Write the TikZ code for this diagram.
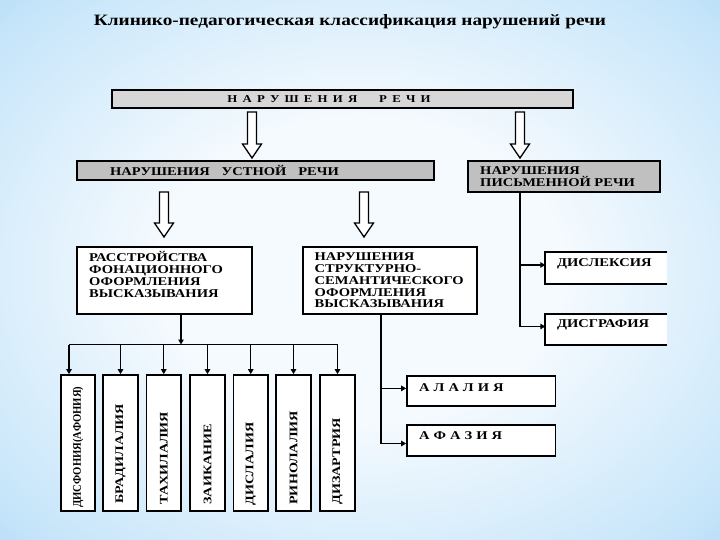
\documentclass[tikz,border=0pt]{standalone}
\usepackage{fontspec}
\setmainfont{Liberation Serif}[FakeStretch=1.22]
\usetikzlibrary{calc,arrows.meta}
\definecolor{bgblue}{RGB}{138,199,238}
\definecolor{bgmid}{RGB}{200,230,250}
\definecolor{bgin}{RGB}{245,250,254}
\definecolor{lgray}{RGB}{215,215,215}
\definecolor{mgray}{RGB}{192,192,192}
\pgfdeclareradialshading{bgshade}{\pgfpoint{0bp}{0bp}}{color(0bp)=(bgin); color(14bp)=(bgin); color(32bp)=(bgmid); color(50bp)=(bgblue); color(70bp)=(bgblue)}
\newcommand\harrow[2]{%
  \draw[hollow] ($(#1)+(-4.5,0)$) -- ($(#2)+(-4.5,-14)$) -- ($(#2)+(-9.5,-14)$) -- (#2)
    -- ($(#2)+(9.5,-14)$) -- ($(#2)+(4.5,-14)$) -- ($(#1)+(4.5,0)$) -- cycle;}
\newcommand\lsp{\hspace{5.2pt}}
\begin{document}
\begin{tikzpicture}[x=1pt,y=-1pt,
  box/.style={draw=black, line width=1.7pt, inner sep=0pt, fill=white},
  obox/.style={inner sep=0pt, fill=white},
  bline/.style={line width=1.7pt},
  conn/.style={line width=1.4pt, -{Triangle[length=5pt,width=5.5pt]}},
  ln/.style={line width=1.4pt},
  hollow/.style={draw=black, line width=1.3pt, fill=white, line join=miter},
  lab/.style={font=\bfseries\fontsize{11.9}{11.8}\selectfont, inner sep=0pt, align=left},
  vlab/.style={font=\bfseries\fontsize{11.6}{12}\selectfont, inner sep=0pt, rotate=90, anchor=west}]
\shade[shading=bgshade] (0,0) rectangle (720,540);
\useasboundingbox (0,0) rectangle (720,540);

% title
\node[font=\bfseries\fontsize{15.8}{18}\selectfont, inner sep=0pt] (title) at (350,22) {Клинико-педагогическая классификация нарушений речи};

% top box
\node[box, fill=lgray, minimum width=461, minimum height=18] (top) at (342.5,99) {};
\node[lab, font=\bfseries\fontsize{10.5}{11}\selectfont] (topT) at (329,99.5) {Н\lsp А\lsp Р\lsp У\lsp Ш\lsp Е\lsp Н\lsp И\lsp Я\hspace{22pt}Р\lsp Е\lsp Ч\lsp И};

% second level
\node[box, fill=mgray, minimum width=357, minimum height=19] (ust) at (255.5,170.5) {};
\node[lab, anchor=west] (ustT) at (110,170.5) {НАРУШЕНИЯ\quad УСТНОЙ\quad РЕЧИ};
\node[box, fill=mgray, minimum width=192, minimum height=31] (pis) at (564,176.5) {};
\node[lab, anchor=west] (pisT) at (480,177) {НАРУШЕНИЯ\\ПИСЬМЕННОЙ РЕЧИ};

% hollow arrows
\coordinate (h1a) at (252,112); \coordinate (h1b) at (252,158);
\coordinate (h2a) at (520,112); \coordinate (h2b) at (520,158);
\coordinate (h3a) at (164,192); \coordinate (h3b) at (164,237);
\coordinate (h4a) at (364,192); \coordinate (h4b) at (364,237);
\harrow{h1a}{h1b}
\harrow{h2a}{h2b}
\harrow{h3a}{h3b}
\harrow{h4a}{h4b}

% third level
\node[box, minimum width=175, minimum height=67] (fon) at (164.5,280.5) {};
\node[lab, anchor=west] (fonT) at (89,274.5) {РАССТРОЙСТВА\\ФОНАЦИОННОГО\\ОФОРМЛЕНИЯ\\ВЫСКАЗЫВАНИЯ};
\node[box, minimum width=174, minimum height=67] (str) at (390,280.5) {};
\node[lab, anchor=west] (strT) at (314.5,280.5) {НАРУШЕНИЯ\\СТРУКТУРНО-\\СЕМАНТИЧЕСКОГО\\ОФОРМЛЕНИЯ\\ВЫСКАЗЫВАНИЯ};

% written speech
\node[obox, minimum width=121.5, minimum height=31.6] (dlx) at (606.25,268.2) {};
\draw[bline] (dlx.north east) -- (dlx.north west) -- (dlx.south west) -- (dlx.south east);
\node[lab, anchor=west] (dlxT) at (557,263.6) {ДИСЛЕКСИЯ};
\node[obox, minimum width=121.5, minimum height=31] (dgr) at (606.25,329.5) {};
\draw[bline] (dgr.north east) -- (dgr.north west) -- (dgr.south west) -- (dgr.south east);
\node[lab, anchor=west] (dgrT) at (557,324.6) {ДИСГРАФИЯ};
\coordinate (j3) at (520,265);
\coordinate (j4) at (520,326.5);
\draw[conn] (pis.south -| j4) |- (dgr.west |- j4);
\draw[conn] (j3) -- (dlx.west |- j3);

% structural-semantic
\node[box, minimum width=148.5, minimum height=30] (ala) at (481.25,391) {};
\node[lab, anchor=west] (alaT) at (419,387.6) {А\hspace{4pt}Л\hspace{4pt}А\hspace{4pt}Л\hspace{4pt}И\hspace{4pt}Я};
\node[box, minimum width=148.5, minimum height=31] (afa) at (481.25,440.5) {};
\node[lab, anchor=west] (afaT) at (419,435.8) {А\hspace{4pt}Ф\hspace{4pt}А\hspace{4pt}З\hspace{4pt}И\hspace{4pt}Я};
\coordinate (j1) at (381,388.4);
\coordinate (j2) at (381,443.5);
\draw[conn] (str.south -| j2) |- (afa.west |- j2);
\draw[conn] (j1) -- (ala.west |- j1);

% vertical boxes
\foreach \n/\cx in {1/78,2/120.5,3/163.75,4/207.5,5/250.75,6/293.5,7/337.5}{
  \node[box, minimum width=34.5, minimum height=136] (v\n) at (\cx,443) {};
}
\node[vlab] (v1T) at ([yshift=4pt]v1.south) {\resizebox{121pt}{\height}{ДИСФОНИЯ(АФОНИЯ)}};
\node[vlab] (v2T) at ([yshift=8pt]v2.south) {БРАДИЛАЛИЯ};
\node[vlab] (v3T) at ([yshift=7pt]v3.south) {ТАХИЛАЛИЯ};
\node[vlab] (v4T) at ([yshift=7pt]v4.south) {ЗАИКАНИЕ};
\node[vlab] (v5T) at ([yshift=6pt]v5.south) {ДИСЛАЛИЯ};
\node[vlab] (v6T) at ([yshift=7pt]v6.south) {РИНОЛАЛИЯ};
\node[vlab] (v7T) at ([yshift=7pt]v7.south) {ДИЗАРТРИЯ};

% bus
\coordinate (busL) at (69,344.5);
\coordinate (busR) at (338,344.5);
\draw[conn] ([xshift=16.5pt]fon.south) -- ([xshift=16.5pt]fon.south |- busL);
\draw[ln] (busL) -- (busR);
\draw[conn] (busL) -- (busL |- v1.north);
\foreach \n in {2,...,7}{
  \draw[conn] (v\n.north |- busL) -- (v\n.north);
}
\end{tikzpicture}
\end{document}
